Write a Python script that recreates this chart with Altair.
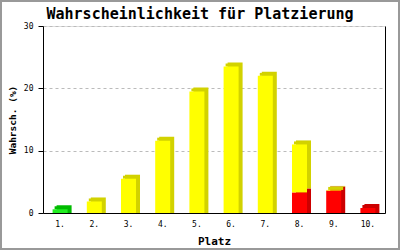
import altair as alt
import pandas as pd

places = ["1.", "2.", "3.", "4.", "5.", "6.", "7.", "8.", "9.", "10."]
green = [0.6, 0, 0, 0, 0, 0, 0, 0, 0, 0]
red = [0, 0, 0, 0, 0, 0, 0, 3.3, 3.6, 0.8]
yellow = [0, 1.85, 5.5, 11.6, 19.5, 23.5, 22.0, 7.7, 0.1, 0]
y_ticks = [0, 10, 20, 30]

front_colors = {"green": "#22ee22", "red": "#ff0000", "yellow": "#ffff00"}
side_colors = {"green": "#00bb00", "red": "#cc0000", "yellow": "#d2d200"}

rows = []
for i, p in enumerate(places):
    segs = [("green", green[i]), ("red", red[i]), ("yellow", yellow[i])]
    segs = [s for s in segs if s[1] > 0]
    start = 0.0
    for k, (name, v) in enumerate(segs):
        rows.append({
            "place": p, "start": start, "end": start + v,
            "front": front_colors[name], "side": side_colors[name],
            "bottom": k == 0, "top": k == len(segs) - 1,
        })
        start += v
df = pd.DataFrame(rows)

MONO = "DejaVu Sans Mono"
BW = 15
D = 4

x_enc = alt.X("place:N", sort=places,
              scale=alt.Scale(paddingInner=0, paddingOuter=0),
              axis=alt.Axis(title="Platz", labelAngle=0, ticks=False, domainColor="black",
                            labelFont=MONO, labelFontSize=8, labelPadding=7, labelColor="black",
                            titleFont=MONO, titleFontSize=11, titleFontWeight="bold",
                            titleColor="black", titleY=31, titleBaseline="alphabetic"))
y_scale = alt.Scale(domain=[0, 30], nice=False)

y_left = alt.Axis(values=y_ticks, tickSize=5, tickColor="black", domainColor="black",
                  labelFont=MONO, labelFontSize=8, labelPadding=5, labelColor="black",
                  grid=True, gridDash=[3, 3], gridColor="#bbbbbb",
                  title="Wahrsch. (%)", titleFont=MONO, titleFontSize=9.5, titleFontWeight="bold",
                  titleColor="black", titleAngle=270, titleX=-31, titleY=93.5,
                  titleAlign="center", titleBaseline="middle")
y_right = alt.Axis(orient="right", labels=False, ticks=False, grid=False, title=None,
                   domainColor="black", values=y_ticks)

base = alt.Chart(df)

shadow_bottom = base.transform_filter("datum.bottom").mark_bar(
    size=BW, xOffset=D, yOffset=-D, y2Offset=0
).encode(x=x_enc, y=alt.Y("end:Q", scale=y_scale, axis=y_right), y2="start:Q",
         color=alt.Color("side:N", scale=None))

shadow_upper = base.transform_filter("!datum.bottom").mark_bar(
    size=BW, xOffset=D, yOffset=-D, y2Offset=-D
).encode(x=x_enc, y=alt.Y("end:Q", scale=y_scale, axis=None), y2="start:Q",
         color=alt.Color("side:N", scale=None))

cap = base.transform_filter("datum.top").mark_bar(
    size=BW, xOffset=2, yOffset=-3, y2Offset=0
).encode(x=x_enc, y=alt.Y("end:Q", scale=y_scale, axis=None), y2="end:Q",
         color=alt.Color("side:N", scale=None))

front = base.mark_bar(size=BW).encode(
    x=x_enc, y=alt.Y("end:Q", scale=y_scale, axis=y_left), y2="start:Q",
    color=alt.Color("front:N", scale=None))

frame = alt.Chart(alt.Data(values=[{}])).mark_rect(
    filled=False, stroke="#999999", strokeWidth=2
).encode(x=alt.value(-42), x2=alt.value(356), y=alt.value(-25), y2=alt.value(223))

chart = alt.layer(shadow_bottom, shadow_upper, cap, front, frame).resolve_axis(
    y="independent"
).properties(
    width=342, height=187,
    autosize=alt.AutoSizeParams(type="none"),
    padding={"left": 43, "top": 26, "right": 15, "bottom": 37},
    title=alt.Title("Wahrscheinlichkeit für Platzierung", font=MONO, fontSize=15,
                    fontWeight="bold", anchor="middle", dx=-14, dy=34, offset=0,
                    baseline="alphabetic", color="black"),
).configure_view(stroke=None).configure(background="white")

chart.save("out.html", embed_options={"renderer": "svg", "actions": False})
